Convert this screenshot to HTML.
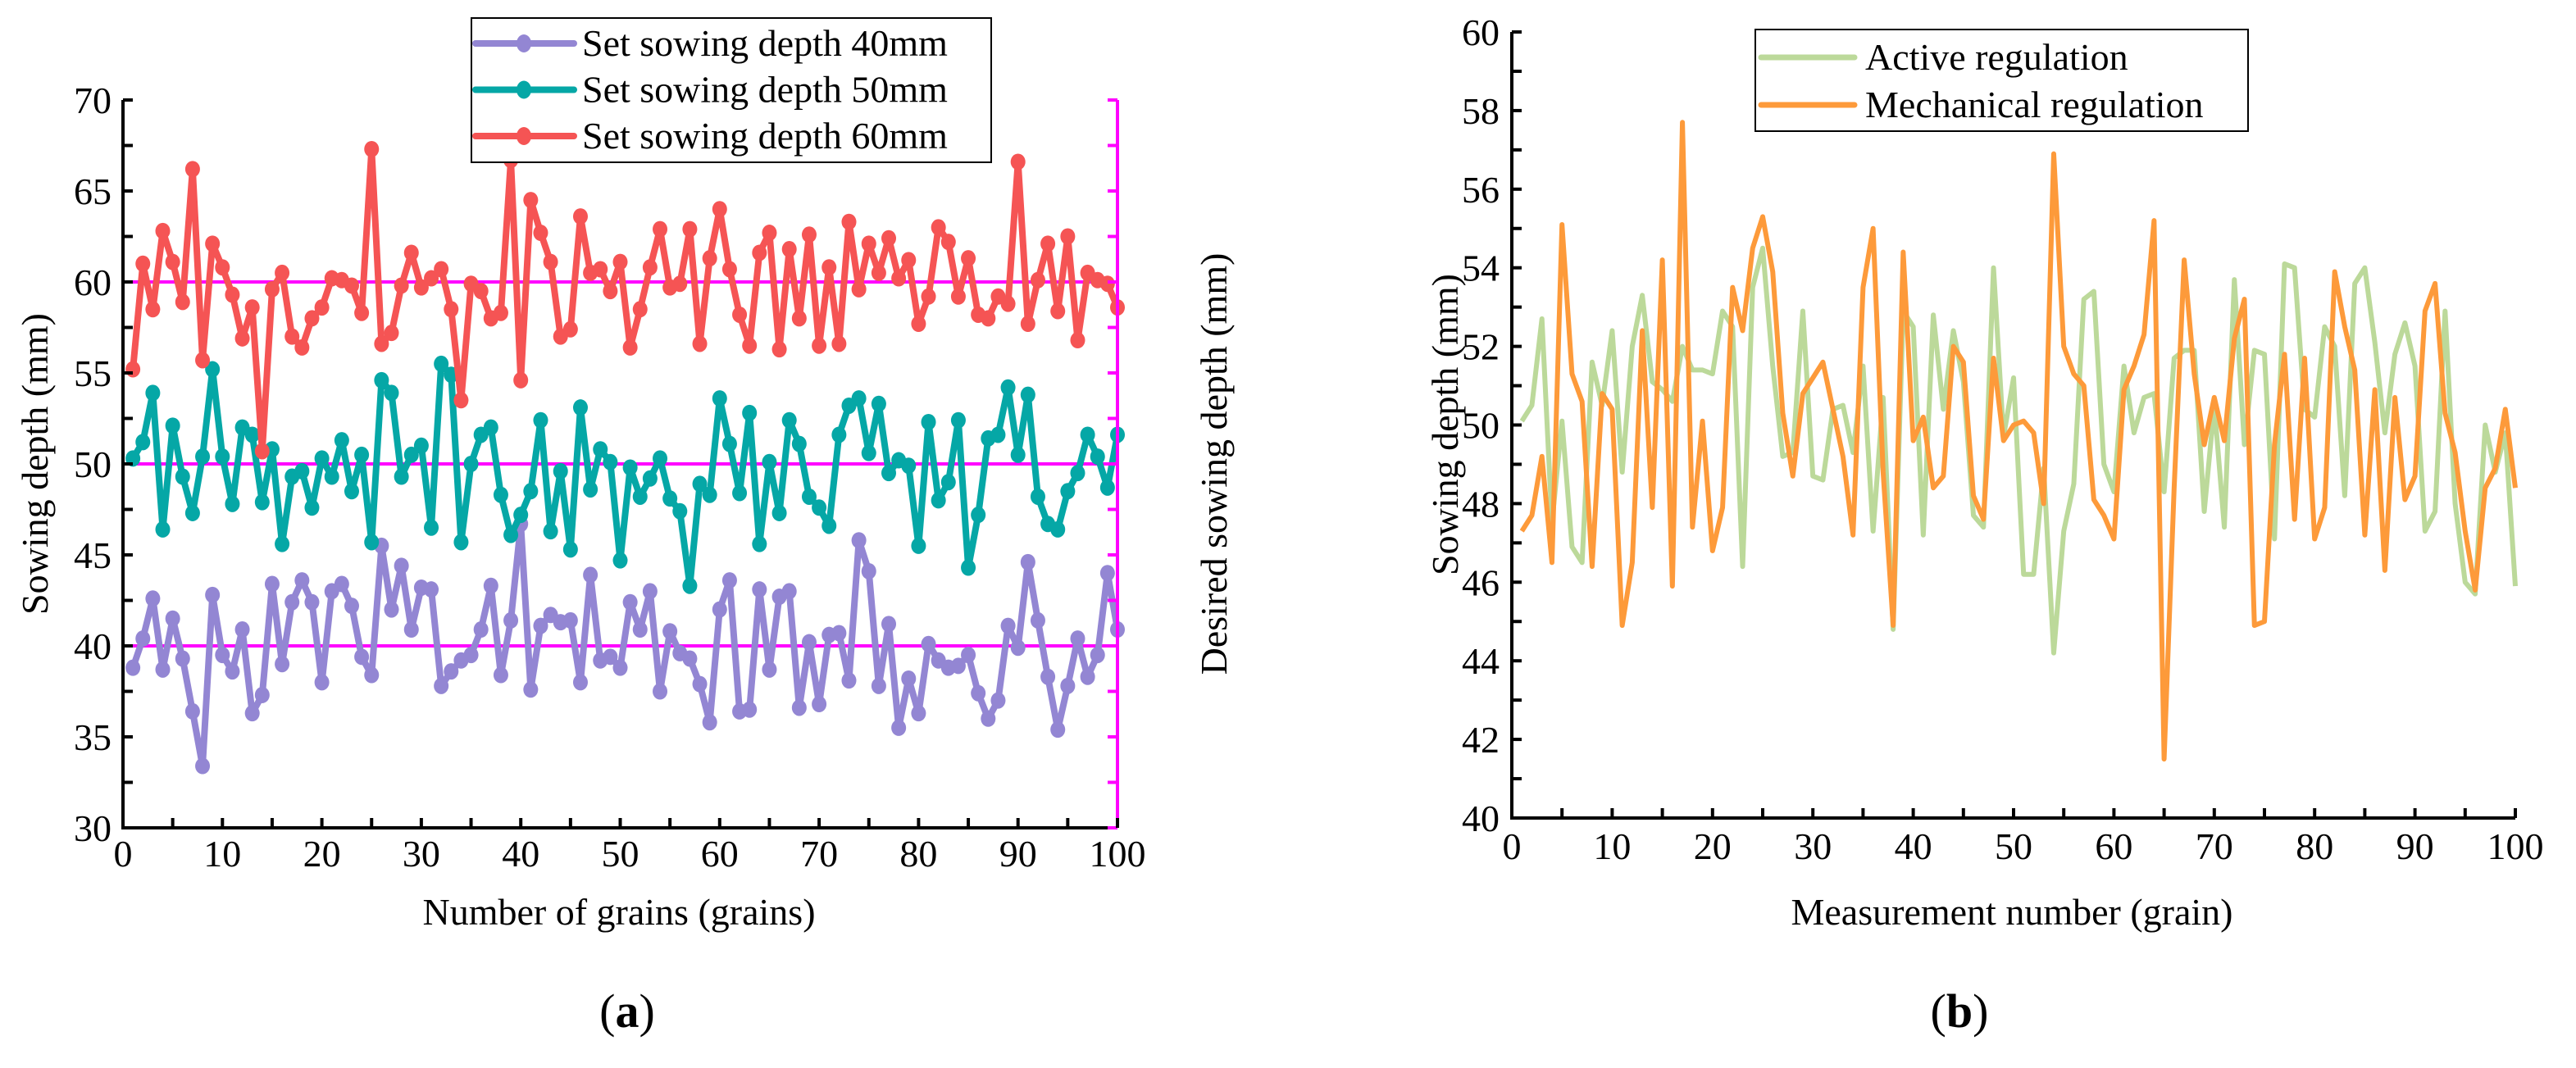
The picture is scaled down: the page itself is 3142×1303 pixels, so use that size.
<!DOCTYPE html>
<html><head><meta charset="utf-8"><style>
html,body{margin:0;padding:0;background:#fff;}
svg{display:block;font-family:"Liberation Serif",serif;}
</style></head><body>
<svg id="fig" width="3142" height="1303" viewBox="0 0 3142 1303" xmlns="http://www.w3.org/2000/svg">
<rect width="3142" height="1303" fill="#fff"/>
<g id="chartA"></g>
<g id="chartB"></g>
</svg>
<script>
const depth40 = [38.8,40.4,42.6,38.7,41.5,39.3,36.4,33.4,42.8,39.5,38.6,40.9,36.3,37.3,43.4,39.0,42.4,43.6,42.4,38.0,43.0,43.4,42.2,39.4,38.4,45.5,42.0,44.4,40.9,43.2,43.1,37.8,38.6,39.2,39.5,40.9,43.3,38.4,41.4,46.7,37.6,41.1,41.7,41.3,41.4,38.0,43.9,39.2,39.4,38.8,42.4,40.9,43.0,37.5,40.8,39.6,39.3,37.9,35.8,42.0,43.6,36.4,36.5,43.1,38.7,42.7,43.0,36.6,40.2,36.8,40.6,40.7,38.1,45.8,44.1,37.8,41.2,35.5,38.2,36.3,40.1,39.2,38.8,38.9,39.5,37.4,36.0,37.0,41.1,39.9,44.6,41.4,38.3,35.4,37.8,40.4,38.3,39.5,44.0,40.9];
const depth50 = [50.3,51.2,53.9,46.4,52.1,49.3,47.3,50.4,55.2,50.4,47.8,52.0,51.6,47.9,50.8,45.6,49.3,49.6,47.6,50.3,49.3,51.3,48.5,50.5,45.7,54.6,53.9,49.3,50.5,51.0,46.5,55.5,54.9,45.7,50.0,51.6,52.0,48.3,46.1,47.2,48.5,52.4,46.3,49.6,45.3,53.1,48.6,50.8,50.1,44.7,49.8,48.2,49.2,50.3,48.1,47.4,43.3,48.9,48.3,53.6,51.1,48.4,52.8,45.6,50.1,47.3,52.4,51.1,48.2,47.6,46.6,51.6,53.2,53.6,50.6,53.3,49.5,50.2,49.9,45.5,52.3,48.0,49.0,52.4,44.3,47.2,51.4,51.6,54.2,50.5,53.8,48.2,46.7,46.4,48.5,49.5,51.6,50.4,48.7,51.6];
const depth60 = [55.2,61.0,58.5,62.8,61.1,58.9,66.2,55.7,62.1,60.8,59.3,56.9,58.6,50.7,59.6,60.5,57.0,56.4,58.0,58.6,60.2,60.1,59.8,58.3,67.3,56.6,57.2,59.8,61.6,59.7,60.2,60.7,58.5,53.5,59.9,59.5,58.0,58.3,66.7,54.6,64.5,62.7,61.1,57.0,57.4,63.6,60.5,60.7,59.5,61.1,56.4,58.5,60.8,62.9,59.7,59.9,62.9,56.6,61.3,64.0,60.7,58.2,56.5,61.6,62.7,56.3,61.8,58.0,62.6,56.5,60.8,56.6,63.3,59.6,62.1,60.5,62.4,60.2,61.2,57.7,59.2,63.0,62.2,59.2,61.3,58.2,58.0,59.2,58.8,66.6,57.7,60.1,62.1,58.4,62.5,56.8,60.5,60.1,59.9,58.6];
const desiredLevels = [40,50,60];
const yTicksA = [30,35,40,45,50,55,60,65,70];
const xTicks = [0,10,20,30,40,50,60,70,80,90,100];
const activeReg = [50.1,50.5,52.7,47.5,50.1,46.9,46.5,51.6,50.5,52.4,48.8,52.0,53.3,51.1,50.9,50.6,52.0,51.4,51.4,51.3,52.9,52.5,46.4,53.5,54.5,51.5,49.2,49.3,52.9,48.7,48.6,50.4,50.5,49.3,51.5,47.3,50.7,44.8,52.9,52.5,47.2,52.8,50.4,52.4,51.1,47.7,47.4,54.0,49.7,51.2,46.2,46.2,48.9,44.2,47.3,48.5,53.2,53.4,49.0,48.3,51.5,49.8,50.7,50.8,48.3,51.7,51.9,51.9,47.8,50.5,47.4,53.7,49.5,51.9,51.8,47.1,54.1,54.0,50.4,50.2,52.5,52.0,48.2,53.6,54.0,52.1,49.8,51.8,52.6,51.5,47.3,47.8,52.9,48.0,46.0,45.7,50.0,48.8,49.8,45.9];
const mechReg = [47.3,47.7,49.2,46.5,55.1,51.3,50.6,46.4,50.8,50.4,44.9,46.5,52.4,47.9,54.2,45.9,57.7,47.4,50.1,46.8,47.9,53.5,52.4,54.5,55.3,53.9,50.3,48.7,50.8,51.2,51.6,50.4,49.2,47.2,53.5,55.0,48.8,44.9,54.4,49.6,50.2,48.4,48.7,52.0,51.6,48.2,47.6,51.7,49.6,50.0,50.1,49.8,48.0,56.9,52.0,51.3,51.0,48.1,47.7,47.1,50.9,51.5,52.3,55.2,41.5,48.4,54.2,51.3,49.5,50.7,49.6,52.2,53.2,44.9,45.0,49.5,51.8,47.6,51.7,47.1,47.9,53.9,52.5,51.4,47.2,50.9,46.3,50.7,48.1,48.7,52.9,53.6,50.3,49.3,47.3,45.8,48.4,48.9,50.4,48.4];
const yTicksB = [40,42,44,46,48,50,52,54,56,58,60];

const NS='http://www.w3.org/2000/svg';
function mk(parent,tag,attrs,text){const e=document.createElementNS(NS,tag);for(const k in attrs)e.setAttribute(k,attrs[k]);if(text!==undefined)e.textContent=text;parent.appendChild(e);return e;}
const FS=46;

// ---------- Chart A ----------
(function(){
const g=document.getElementById('chartA');
const L=150,R=1363,T=122,B=1010;
const xs=v=>L+(v/100)*(R-L);
const ys=v=>B-(v-30)/40*(B-T);
// desired lines
desiredLevels.forEach(v=>{
  const l=mk(g,'line',{x1:L,x2:R,y1:ys(v),y2:ys(v),stroke:'#ff00ff','stroke-width':4});
  
  
});
const series=[[depth40,'#9386d3','series-40mm'],[depth50,'#05a7a6','series-50mm'],[depth60,'#f55454','series-60mm']];
series.forEach(([d,c,n])=>{
  const sg=mk(g,'g',{});
  
  
  const pts=d.map((v,i)=>xs(i+1)+','+ys(v)).join(' ');
  mk(sg,'polyline',{points:pts,fill:'none',stroke:c,'stroke-width':8,'stroke-linejoin':'round'});
  d.forEach((v,i)=>{
    const p=mk(sg,'ellipse',{cx:xs(i+1),cy:ys(v),rx:9,ry:10,fill:c});
    
    
  });
});
// axes
mk(g,'path',{d:`M${L},${T} V${B} H${R}`,fill:'none',stroke:'#000','stroke-width':4});
mk(g,'line',{x1:R,x2:R,y1:T,y2:B,stroke:'#ff00ff','stroke-width':4});
for(let v=30;v<=70;v+=2.5){
  mk(g,'line',{x1:L,x2:L+12,y1:ys(v),y2:ys(v),stroke:'#000','stroke-width':4});
  mk(g,'line',{x1:R,x2:R-12,y1:ys(v),y2:ys(v),stroke:'#ff00ff','stroke-width':4});
}
for(let v=0;v<=100;v+=5) mk(g,'line',{x1:xs(v),x2:xs(v),y1:B,y2:B-12,stroke:'#000','stroke-width':4});
yTicksA.forEach(v=>{
  const t=mk(g,'text',{x:136,y:ys(v)+16,'text-anchor':'end','font-size':FS},String(v));
  
  
});
xTicks.forEach(v=>{
  const t=mk(g,'text',{x:xs(v),y:1057,'text-anchor':'middle','font-size':FS},String(v));
  
  
});
let t=mk(g,'text',{x:755,y:1128,'text-anchor':'middle','font-size':FS},'Number of grains (grains)');

t=mk(g,'text',{x:0,y:0,'text-anchor':'middle','font-size':FS,transform:'translate(58,566) rotate(-90)'},'Sowing depth (mm)');

t=mk(g,'text',{x:0,y:0,'text-anchor':'middle','font-size':FS,transform:'translate(1496,566) rotate(-90)'},'Desired sowing depth (mm)');

t=mk(g,'text',{x:765,y:1253,'text-anchor':'middle','font-size':58},'(');
t.innerHTML='(<tspan font-weight="bold">a</tspan>)';

// legend
const lg=mk(g,'g',{});


mk(lg,'rect',{x:575,y:22,width:634,height:176,fill:'#fff',stroke:'#000','stroke-width':2});
const labels=['Set sowing depth 40mm','Set sowing depth 50mm','Set sowing depth 60mm'];
series.forEach(([d,c],i)=>{
  const y=53+i*56.5;
  const e=mk(lg,'g',{});
  
  
  mk(e,'line',{x1:580,x2:700,y1:y,y2:y,stroke:c,'stroke-width':8,'stroke-linecap':'round'});
  mk(e,'ellipse',{cx:639,cy:y,rx:9,ry:11,fill:c});
  mk(e,'text',{x:710,y:y+15,'font-size':FS},labels[i]);
});
})();

// ---------- Chart B ----------
(function(){
const g=document.getElementById('chartB');
const L=1844,R=3068,T=39,B=998;
const xs=v=>L+(v/100)*(R-L);
const ys=v=>B-(v-40)/20*(B-T);
[[activeReg,'#bcd99a','active-regulation-line'],[mechReg,'#fd9a3a','mechanical-regulation-line']].forEach(([d,c,n])=>{
  const pts=d.map((v,i)=>xs(i+1)+','+ys(v)).join(' ');
  const p=mk(g,'polyline',{points:pts,fill:'none',stroke:c,'stroke-width':6,'stroke-linejoin':'round'});
  
  
});
mk(g,'path',{d:`M${L},${T} V${B} H${R}`,fill:'none',stroke:'#000','stroke-width':4});
for(let v=40;v<=60;v+=1) mk(g,'line',{x1:L,x2:L+12,y1:ys(v),y2:ys(v),stroke:'#000','stroke-width':4});
for(let v=0;v<=100;v+=5) mk(g,'line',{x1:xs(v),x2:xs(v),y1:B,y2:B-12,stroke:'#000','stroke-width':4});
yTicksB.forEach(v=>{
  const t=mk(g,'text',{x:1829,y:ys(v)+16,'text-anchor':'end','font-size':FS},String(v));
  
  
});
xTicks.forEach(v=>{
  const t=mk(g,'text',{x:xs(v),y:1048,'text-anchor':'middle','font-size':FS},String(v));
  
  
});
let t=mk(g,'text',{x:2454,y:1128,'text-anchor':'middle','font-size':FS},'Measurement number (grain)');

t=mk(g,'text',{x:0,y:0,'text-anchor':'middle','font-size':FS,transform:'translate(1778,518) rotate(-90)'},'Sowing depth (mm)');

t=mk(g,'text',{x:2390,y:1253,'text-anchor':'middle','font-size':58},'');
t.innerHTML='(<tspan font-weight="bold">b</tspan>)';

const lg=mk(g,'g',{});


mk(lg,'rect',{x:2141,y:36,width:601,height:124,fill:'#fff',stroke:'#000','stroke-width':2});
[['#bcd99a','Active regulation'],['#fd9a3a','Mechanical regulation']].forEach(([c,l],i)=>{
  const y=70+i*58;
  const e=mk(lg,'g',{});
  
  
  mk(e,'line',{x1:2148,x2:2262,y1:y,y2:y,stroke:c,'stroke-width':7,'stroke-linecap':'round'});
  mk(e,'text',{x:2275,y:y+15,'font-size':FS},l);
});
})();
</script>
</body></html>
